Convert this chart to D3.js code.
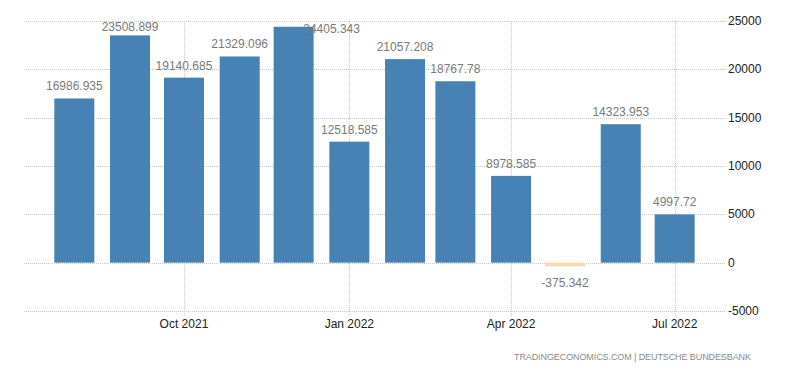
<!DOCTYPE html>
<html lang="en">
<head>
<meta charset="UTF-8" />
<title>Germany balance chart</title>
<script src="https://cdn.jsdelivr.net/npm/d3@7"></script>
<style>
  body { margin: 0; background: #fff; }
  svg { display: block; font-family: "Liberation Sans", Arial, sans-serif; }
  .grid line { stroke: #c8c8c8; stroke-dasharray: 1,1; }
  .val { fill: #7a7a7a; font-size: 12px; }
  .ylab, .xlab { fill: #222; font-size: 12px; }
  .src { fill: #8a8a8a; font-size: 9px; }
</style>
</head>
<body>
<script>
// months (bar centred on the first of each month)
var months = ["2021-08", "2021-09", "2021-10", "2021-11", "2021-12", "2022-01",
              "2022-02", "2022-03", "2022-04", "2022-05", "2022-06", "2022-07"];
var values = [16986.935, 23508.899, 19140.685, 21329.096, 24405.343, 12518.585,
              21057.208, 18767.78, 8978.585, -375.342, 14323.953, 4997.72];
var yTicks = [-5000, 0, 5000, 10000, 15000, 20000, 25000];
var xTicks = ["2021-10", "2022-01", "2022-04", "2022-07"];
var xTickLabels = ["Oct 2021", "Jan 2022", "Apr 2022", "Jul 2022"];

var W = 800, H = 373;
var parse = d3.timeParse("%Y-%m");

var x = d3.scaleTime()
  .domain([new Date(2021, 6, 4), new Date(2022, 6, 29)])
  .range([24, 725]);
var y = d3.scaleLinear().domain([-5000, 25000]).range([311, 21]);
var barW = 40;
var labelTop = 31;

var svg = d3.select("body").append("svg").attr("width", W).attr("height", H);

// horizontal grid
svg.append("g").attr("class", "grid")
  .selectAll("line").data(yTicks).enter().append("line")
  .attr("x1", x.range()[0]).attr("x2", x.range()[1])
  .attr("y1", function(d) { return Math.round(y(d)) + 0.5; })
  .attr("y2", function(d) { return Math.round(y(d)) + 0.5; });

// vertical grid
svg.append("g").attr("class", "grid")
  .selectAll("line").data(xTicks).enter().append("line")
  .attr("x1", function(d) { return Math.round(x(parse(d))) + 0.5; })
  .attr("x2", function(d) { return Math.round(x(parse(d))) + 0.5; })
  .attr("y1", y.range()[1]).attr("y2", y.range()[0] + 5);

// bars
svg.append("g").selectAll("rect").data(values).enter().append("rect")
  .attr("x", function(d, i) { return x(parse(months[i])) - barW / 2; })
  .attr("width", barW)
  .attr("y", function(d) { return y(Math.max(0, d)); })
  .attr("height", function(d) { return Math.abs(y(d) - y(0)); })
  .attr("fill", function(d) { return d < 0 ? "#f4dba9" : "#4682b4"; });

// value labels
svg.append("g").selectAll("text").data(values).enter().append("text")
  .attr("class", "val")
  .attr("text-anchor", "middle")
  .attr("x", function(d, i) {
    var cx = x(parse(months[i]));
    // bar reaching above the label line: label moves to the right side
    return y(d) < labelTop ? cx + 38 : cx;
  })
  .attr("y", function(d) {
    if (d < 0) return y(d) + 21;
    if (y(d) < labelTop) return y(d) + 6;
    return Math.max(y(d) - 8, labelTop);
  })
  .text(function(d) { return d; });

// y axis labels on the right
svg.append("g").selectAll("text").data(yTicks).enter().append("text")
  .attr("class", "ylab")
  .attr("x", 728)
  .attr("y", function(d) { return y(d) + 4; })
  .text(function(d) { return d; });

// x axis labels
svg.append("g").selectAll("text").data(xTicks).enter().append("text")
  .attr("class", "xlab")
  .attr("text-anchor", "middle")
  .attr("x", function(d) { return x(parse(d)); })
  .attr("y", 328)
  .text(function(d, i) { return xTickLabels[i]; });

svg.append("text").attr("class", "src")
  .attr("x", 751).attr("y", 360)
  .attr("text-anchor", "end")
  .attr("textLength", 237).attr("lengthAdjust", "spacing")
  .text("TRADINGECONOMICS.COM  |  DEUTSCHE  BUNDESBANK");
</script>
</body>
</html>
